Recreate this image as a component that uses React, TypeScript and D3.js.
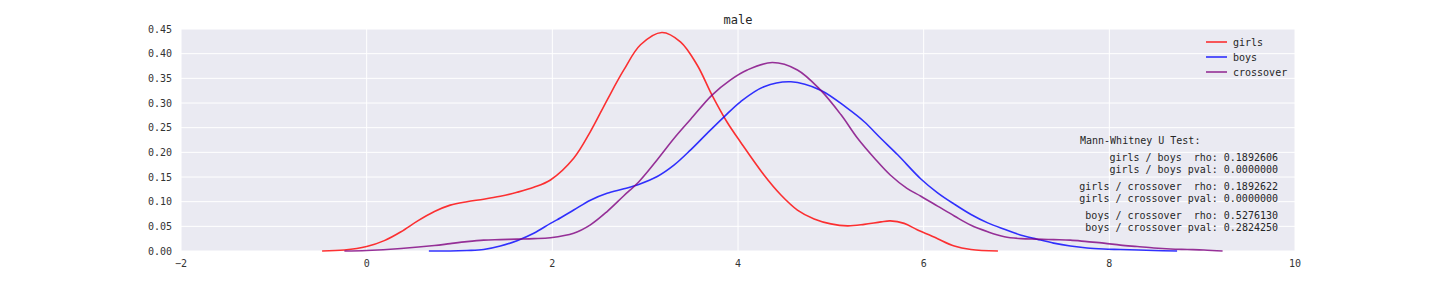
import React from "react";
import * as d3 from "d3";

const girlsX = [-0.48, -0.24, 0, 0.19, 0.37, 0.55, 0.73, 0.9, 1.08, 1.26, 1.44, 1.62, 1.8, 1.98, 2.23, 2.41, 2.59, 2.77, 2.95, 3.18, 3.38, 3.56, 3.72, 3.88, 4.03, 4.28, 4.46, 4.64, 4.82, 5.0, 5.18, 5.36, 5.54, 5.64, 5.79, 5.93, 6.08, 6.15, 6.33, 6.51, 6.8];
const girlsY = [0, 0.002, 0.009, 0.021, 0.039, 0.061, 0.08, 0.093, 0.1, 0.105, 0.111, 0.119, 0.129, 0.144, 0.188, 0.242, 0.306, 0.367, 0.418, 0.443, 0.424, 0.377, 0.316, 0.262, 0.22, 0.154, 0.114, 0.083, 0.065, 0.055, 0.051, 0.054, 0.059, 0.061, 0.056, 0.043, 0.031, 0.025, 0.01, 0.003, 0];

const boysX = [0.67, 0.9, 1.08, 1.26, 1.44, 1.62, 1.8, 1.98, 2.05, 2.23, 2.41, 2.59, 2.77, 2.93, 3.13, 3.31, 3.49, 3.67, 3.85, 4.03, 4.28, 4.57, 4.89, 5.18, 5.36, 5.54, 5.72, 5.97, 6.15, 6.33, 6.51, 6.69, 6.87, 7.05, 7.22, 7.4, 7.58, 7.76, 7.94, 8.12, 8.48, 8.73];
const boysY = [0, 0, 0.001, 0.003, 0.01, 0.021, 0.036, 0.056, 0.063, 0.083, 0.103, 0.117, 0.126, 0.135, 0.151, 0.174, 0.205, 0.239, 0.272, 0.303, 0.333, 0.343, 0.326, 0.289, 0.262, 0.228, 0.195, 0.146, 0.118, 0.095, 0.074, 0.057, 0.044, 0.032, 0.024, 0.016, 0.01, 0.006, 0.004, 0.003, 0.001, 0];

const crossX = [-0.24, 0.0, 0.37, 0.73, 0.9, 1.08, 1.26, 1.44, 1.62, 1.8, 1.98, 2.23, 2.41, 2.59, 2.77, 2.93, 3.13, 3.31, 3.49, 3.72, 3.92, 4.1, 4.37, 4.64, 4.89, 5.11, 5.29, 5.47, 5.64, 5.82, 5.97, 6.15, 6.33, 6.51, 6.69, 6.87, 7.05, 7.22, 7.4, 7.58, 7.76, 7.94, 8.12, 8.3, 8.48, 8.66, 8.84, 9.02, 9.22];
const crossY = [0, 0.001, 0.005, 0.011, 0.015, 0.019, 0.022, 0.023, 0.024, 0.025, 0.027, 0.036, 0.053, 0.08, 0.112, 0.14, 0.185, 0.228, 0.267, 0.316, 0.347, 0.367, 0.382, 0.367, 0.326, 0.276, 0.228, 0.188, 0.154, 0.127, 0.111, 0.091, 0.071, 0.052, 0.039, 0.029, 0.025, 0.024, 0.023, 0.022, 0.019, 0.016, 0.012, 0.009, 0.006, 0.004, 0.003, 0.002, 0];

const seriesNames = ["girls", "boys", "crossover"];
const seriesColors = ["rgba(255,0,0,0.8)", "rgba(0,0,255,0.8)", "rgba(128,0,128,0.8)"];

const xTicks = [-2, 0, 2, 4, 6, 8, 10];
const yTicks = [0, 0.05, 0.1, 0.15, 0.2, 0.25, 0.3, 0.35, 0.4, 0.45];

const statHeader = "Mann-Whitney U Test:";
const statLines = [
  ["girls / boys  rho: 0.1892606", "girls / boys pval: 0.0000000"],
  ["girls / crossover  rho: 0.1892622", "girls / crossover pval: 0.0000000"],
  ["boys / crossover  rho: 0.5276130", "boys / crossover pval: 0.2824250"],
];

const FONT = "'DejaVu Sans Mono', monospace";

export default function App() {
  const W = 1440, H = 288;
  const left = 181, right = 1295, top = 29, bottom = 251;
  const x = d3.scaleLinear().domain([-2, 10]).range([left, right]);
  const y = d3.scaleLinear().domain([0, 0.45]).range([bottom, top]);
  const line = d3
    .line<[number, number]>()
    .x((d) => x(d[0]))
    .y((d) => Math.min(y(d[1]), bottom))
    .curve(d3.curveCatmullRom.alpha(0.5));

  const series = [
    d3.zip(girlsX, girlsY) as [number, number][],
    d3.zip(boysX, boysY) as [number, number][],
    d3.zip(crossX, crossY) as [number, number][],
  ];

  const fmtY = d3.format(".2f");
  const fmtX = (v: number) => (v < 0 ? "\u2212" + Math.abs(v) : String(v));

  return (
    <svg
      width={W}
      height={H}
      style={{ position: "absolute", left: 0, top: 0, background: "#fff" }}
      fontFamily={FONT}
    >
      <defs>
        <clipPath id="plotclip">
          <rect x={left} y={top} width={right - left} height={bottom - top + 1} />
        </clipPath>
      </defs>
      <rect x={left} y={top} width={right - left} height={bottom - top} fill="#EAEAF2" />
      {yTicks.map((t) => (
        <line key={"gy" + t} x1={left} x2={right} y1={y(t)} y2={y(t)} stroke="#fff" strokeWidth={1} />
      ))}
      {xTicks.map((t) => (
        <line key={"gx" + t} x1={x(t)} x2={x(t)} y1={top} y2={bottom} stroke="#fff" strokeWidth={1} />
      ))}
      <g clipPath="url(#plotclip)">
        {series.map((s, i) => (
          <path key={seriesNames[i]} d={line(s) || ""} fill="none" stroke={seriesColors[i]} strokeWidth={1.6} />
        ))}
      </g>
      {yTicks.map((t) => (
        <text key={"ty" + t} x={172} y={y(t)} dy="0.35em" textAnchor="end" fontSize={10} fill="#333">
          {fmtY(t)}
        </text>
      ))}
      {xTicks.map((t) => (
        <text key={"tx" + t} x={x(t)} y={267} textAnchor="middle" fontSize={10} fill="#333">
          {fmtX(t)}
        </text>
      ))}
      <text x={(left + right) / 2} y={24} textAnchor="middle" fontSize={12} fill="#262626">
        male
      </text>
      {seriesNames.map((n, i) => (
        <g key={"lg" + n}>
          <line x1={1206} x2={1227} y1={42 + i * 15} y2={42 + i * 15} stroke={seriesColors[i]} strokeWidth={1.6} />
          <text x={1233} y={42 + i * 15} dy="0.35em" fontSize={10} fill="#262626">
            {n}
          </text>
        </g>
      ))}
      <text x={1080} y={140} dy="0.35em" fontSize={10} fill="#262626">
        {statHeader}
      </text>
      {statLines.map((grp, gi) =>
        grp.map((s, li) => (
          <text
            key={"st" + gi + li}
            x={1278}
            y={157 + gi * 29 + li * 12}
            dy="0.35em"
            textAnchor="end"
            fontSize={10}
            fill="#262626"
            style={{ whiteSpace: "pre" }}
          >
            {s}
          </text>
        ))
      )}
    </svg>
  );
}
